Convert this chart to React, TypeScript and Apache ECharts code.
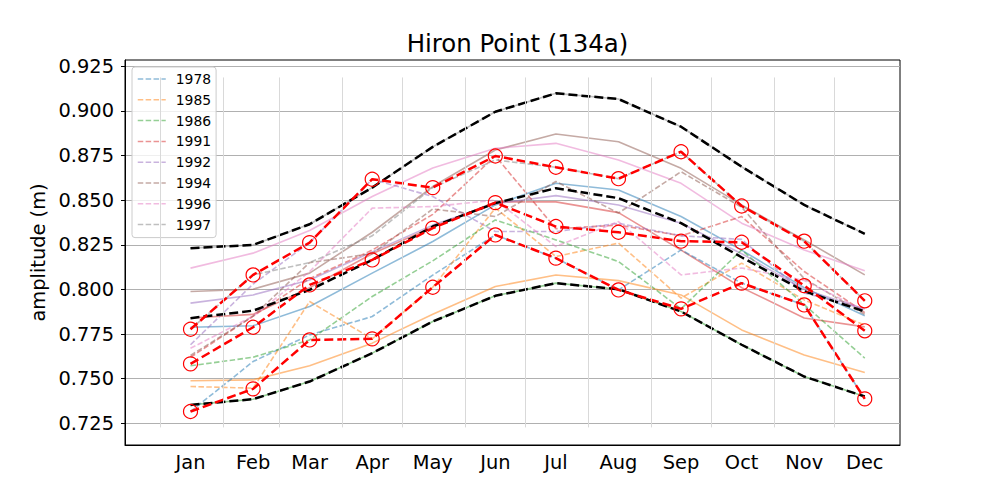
import React, { useEffect, useRef } from "react";
import * as echarts from "echarts";

const months = ["Jan", "Feb", "Mar", "Apr", "May", "Jun", "Jul", "Aug", "Sep", "Oct", "Nov", "Dec"];
const monthDays = [15, 46, 74, 105, 135, 166, 196, 227, 258, 288, 319, 349];
const monthStarts = [0, 31, 59, 90, 120, 151, 181, 212, 243, 273, 304, 334];
const vlineRange = [0.7227, 0.9187];
const yTicks = [0.725, 0.75, 0.775, 0.8, 0.825, 0.85, 0.875, 0.9, 0.925];

const years = ["1978", "1985", "1986", "1991", "1992", "1994", "1996", "1997"];
const yearColors = ["#1f77b4", "#ff7f0e", "#2ca02c", "#d62728", "#9467bd", "#8c564b", "#e377c2", "#7f7f7f"];

// observed (dashed)
const obs1978 = [0.7316, 0.7596, 0.7745, 0.7848, 0.808, 0.8305, 0.8175, 0.7997, 0.8221, 0.8035, 0.7913, 0.7387];
const obs1985 = [0.7456, 0.7447, 0.7932, 0.7723, 0.8012, 0.8455, 0.8184, 0.8259, 0.7951, 0.8147, 0.7941, 0.78];
const obs1986 = [0.7572, 0.762, 0.7717, 0.796, 0.816, 0.8389, 0.8277, 0.8156, 0.7891, 0.8221, 0.7915, 0.7615];
const obs1991 = [0.762, 0.785, 0.806, 0.822, 0.842, 0.8747, 0.834, 0.836, 0.83, 0.8408, 0.81, 0.787];
const obs1992 = [0.769, 0.803, 0.8262, 0.8617, 0.852, 0.8324, 0.8324, 0.837, 0.83, 0.828, 0.798, 0.789];
const obs1994 = [0.763, 0.785, 0.815, 0.82, 0.845, 0.8408, 0.8604, 0.8428, 0.8659, 0.846, 0.806, 0.786];
const obs1996 = [0.767, 0.785, 0.81, 0.8455, 0.8464, 0.85, 0.824, 0.838, 0.8081, 0.812, 0.805, 0.788];
const obs1997 = [0.7777, 0.8081, 0.815, 0.83, 0.857, 0.8725, 0.8684, 0.862, 0.8771, 0.8467, 0.827, 0.7936];

// modelled (solid)
const mod1978 = [0.7788, 0.7796, 0.7904, 0.8091, 0.8268, 0.8473, 0.8594, 0.8557, 0.8408, 0.822, 0.801, 0.7852];
const mod1985 = [0.7488, 0.7493, 0.7572, 0.7699, 0.7861, 0.8016, 0.8081, 0.8049, 0.7969, 0.7773, 0.7633, 0.7534];
const mod1986 = [0.7353, 0.7385, 0.7484, 0.7643, 0.782, 0.7964, 0.8035, 0.8001, 0.7876, 0.769, 0.7512, 0.74];
const mod1991 = [0.784, 0.786, 0.801, 0.82, 0.835, 0.849, 0.849, 0.843, 0.822, 0.801, 0.784, 0.779];
const mod1992 = [0.7923, 0.7969, 0.8053, 0.821, 0.836, 0.848, 0.8525, 0.8473, 0.837, 0.82, 0.8, 0.789];
const mod1994 = [0.7988, 0.8001, 0.8091, 0.832, 0.8576, 0.8781, 0.887, 0.8827, 0.8678, 0.8473, 0.8277, 0.8081];
const mod1996 = [0.8119, 0.8203, 0.833, 0.852, 0.868, 0.879, 0.8818, 0.8725, 0.8594, 0.8371, 0.8221, 0.8105];
const mod1997 = [0.8231, 0.8249, 0.8365, 0.857, 0.8798, 0.8995, 0.9098, 0.9066, 0.8911, 0.8687, 0.8473, 0.8311];

// envelopes
const modMax = [0.8231, 0.8249, 0.8365, 0.857, 0.8798, 0.8995, 0.9098, 0.9066, 0.8911, 0.8687, 0.8473, 0.8311];
const modMean = [0.7839, 0.7881, 0.7997, 0.8165, 0.8352, 0.8483, 0.8567, 0.8511, 0.8371, 0.818, 0.799, 0.7876];
const modMin = [0.7353, 0.7385, 0.7484, 0.7643, 0.782, 0.7964, 0.8035, 0.8001, 0.7876, 0.769, 0.7512, 0.74];
const obsMax = [0.7777, 0.8081, 0.8262, 0.8617, 0.857, 0.8747, 0.8684, 0.862, 0.8771, 0.8467, 0.827, 0.7936];
const obsMean = [0.7583, 0.7788, 0.8025, 0.8165, 0.8343, 0.8486, 0.8352, 0.832, 0.827, 0.8264, 0.8021, 0.7768];
const obsMin = [0.7316, 0.7443, 0.7717, 0.7723, 0.8012, 0.8305, 0.8175, 0.7997, 0.7891, 0.8035, 0.7913, 0.7387];

const observed = [obs1978, obs1985, obs1986, obs1991, obs1992, obs1994, obs1996, obs1997];
const modelled = [mod1978, mod1985, mod1986, mod1991, mod1992, mod1994, mod1996, mod1997];

const pts = (vals: number[]) => vals.map((v, i) => [monthDays[i], v]);

export default function App() {
  const ref = useRef<HTMLDivElement>(null);
  useEffect(() => {
    if (!ref.current) return;
    const chart = echarts.init(ref.current, null, { renderer: "svg" });
    const font = "DejaVu Sans";
    const series: any[] = [];
    series.push({
      name: "vgrid",
      type: "line",
      data: [],
      silent: true,
      markLine: {
        silent: true,
        symbol: ["none", "none"],
        label: { show: false },
        lineStyle: { color: "#d9d9d9", width: 1, type: "solid" },
        emphasis: { disabled: true },
        data: monthStarts.map((d) => [{ coord: [d, vlineRange[0]] }, { coord: [d, vlineRange[1]] }]),
      },
    });
    years.forEach((y, i) => {
      series.push({
        name: y + " model",
        type: "line",
        data: pts(modelled[i]),
        symbol: "none",
        lineStyle: { color: yearColors[i], width: 1.6, opacity: 0.5 },
        itemStyle: { color: yearColors[i] },
      });
    });
    years.forEach((y, i) => {
      series.push({
        name: y,
        type: "line",
        data: pts(observed[i]),
        symbol: "none",
        lineStyle: { color: yearColors[i], width: 1.6, opacity: 0.5, type: [5.5, 2.4] },
        itemStyle: { color: yearColors[i] },
      });
    });
    [modMax, modMean, modMin].forEach((arr, k) => {
      series.push({
        name: "model " + k,
        type: "line",
        data: pts(arr),
        symbol: "none",
        lineStyle: { color: "#000", width: 2.5, type: [9, 4] },
        itemStyle: { color: "#000" },
      });
    });
    [obsMax, obsMean, obsMin].forEach((arr, k) => {
      series.push({
        name: "obs " + k,
        type: "line",
        data: pts(arr),
        symbol: "circle",
        symbolSize: 14,
        showSymbol: true,
        lineStyle: { color: "#ff0000", width: 2.5, type: [9, 4] },
        itemStyle: { color: "rgba(0,0,0,0)", borderColor: "#ff0000", borderWidth: 1.2 },
      });
    });

    chart.setOption({
      animation: false,
      title: {
        text: "Hiron Point (134a)",
        left: 512.5,
        top: 26,
        textAlign: "center",
        textStyle: { fontFamily: font, fontSize: 24.4, fontWeight: "normal", color: "#000" },
      },
      legend: {
        data: years,
        orient: "vertical",
        left: 132,
        top: 67,
        padding: [5, 5, 6, 5],
        itemWidth: 28,
        itemHeight: 14,
        itemGap: 6.8,
        backgroundColor: "rgba(255,255,255,0.8)",
        borderColor: "#cccccc",
        borderWidth: 1,
        borderRadius: 3,
        lineStyle: { type: [5.5, 2.4], width: 1.5 },
        itemStyle: { opacity: 0, borderWidth: 0, color: "rgba(0,0,0,0)" },
        textStyle: { fontFamily: font, fontSize: 13.9, color: "#000", lineHeight: 14, padding: [0, 0, 0, 5] },
        selectedMode: false,
      },
      grid: {
        left: 125,
        top: 60,
        width: 775,
        height: 385,
        show: true,
        borderColor: "#000",
        borderWidth: 1,
        backgroundColor: "transparent",
        containLabel: false,
      },
      xAxis: {
        type: "value",
        min: -17.45,
        max: 366.45,
        axisLine: { show: true, onZero: false, lineStyle: { color: "#000", width: 1 } },
        axisTick: { show: false },
        splitLine: { show: false },
        axisLabel: {
          customValues: monthDays,
          formatter: (v: number) => {
            const idx = monthDays.indexOf(Math.round(v));
            return idx >= 0 ? months[idx] : "";
          },
          fontFamily: font,
          fontSize: 19.4,
          color: "#000",
          margin: 8,
        },
      },
      yAxis: {
        type: "value",
        min: 0.71285,
        max: 0.92847,
        minInterval: 0.025,
        maxInterval: 0.025,
        name: "amplitude (m)",
        nameLocation: "middle",
        nameGap: 71,
        nameTextStyle: { fontFamily: font, fontSize: 19.4, color: "#000" },
        axisLine: { show: true, onZero: false, lineStyle: { color: "#000", width: 1 } },
        axisTick: { show: true, customValues: yTicks, length: 4, lineStyle: { color: "#000", width: 1 } },
        splitLine: { show: true, lineStyle: { color: "#b0b0b0", width: 1 } },
        axisLabel: {
          customValues: yTicks,
          formatter: (v: number) => v.toFixed(3),
          fontFamily: font,
          fontSize: 19.4,
          color: "#000",
          margin: 11,
        },
      },
      series,
    });
    return () => chart.dispose();
  }, []);
  return (
    <div
      ref={ref}
      style={{ position: "absolute", left: 0, top: 0, width: 1000, height: 500, background: "#fff" }}
    />
  );
}
